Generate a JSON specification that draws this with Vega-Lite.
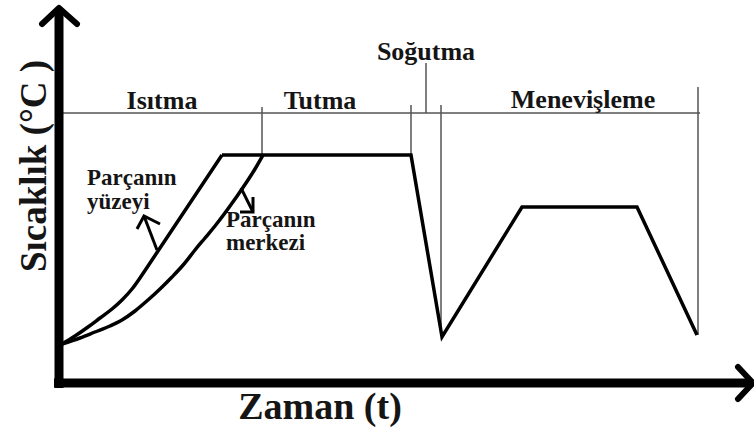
{
  "$schema": "https://vega.github.io/schema/vega-lite/v6.json",
  "width": 754,
  "height": 435,
  "padding": 0,
  "autosize": "none",
  "background": "white",
  "config": {"view": {"stroke": null}},
  "datasets": {
    "lines": [
      {"kind": "axis", "seg": "yaxis", "i": 0, "x": 59, "t": 47},
      {"kind": "axis", "seg": "yaxis", "i": 1, "x": 59, "t": 426},
      {"kind": "axis", "seg": "xaxis", "i": 0, "x": 54, "t": 52},
      {"kind": "axis", "seg": "xaxis", "i": 1, "x": 751, "t": 52},
      {"kind": "head", "seg": "yhead", "i": 0, "x": 42, "t": 411},
      {"kind": "head", "seg": "yhead", "i": 1, "x": 59, "t": 427},
      {"kind": "head", "seg": "yhead", "i": 2, "x": 77, "t": 411},
      {"kind": "head", "seg": "xhead", "i": 0, "x": 738, "t": 68},
      {"kind": "head", "seg": "xhead", "i": 1, "x": 753, "t": 52},
      {"kind": "head", "seg": "xhead", "i": 2, "x": 738, "t": 36},
      {"kind": "thin", "seg": "h", "i": 0, "x": 59, "t": 322},
      {"kind": "thin", "seg": "h", "i": 1, "x": 700, "t": 322},
      {"kind": "thin", "seg": "v1", "i": 0, "x": 262, "t": 328},
      {"kind": "thin", "seg": "v1", "i": 1, "x": 262, "t": 280},
      {"kind": "thin", "seg": "v2", "i": 0, "x": 411, "t": 330},
      {"kind": "thin", "seg": "v2", "i": 1, "x": 411, "t": 280},
      {"kind": "thin", "seg": "v3", "i": 0, "x": 426, "t": 372},
      {"kind": "thin", "seg": "v3", "i": 1, "x": 426, "t": 322},
      {"kind": "thin", "seg": "v4", "i": 0, "x": 441, "t": 330},
      {"kind": "thin", "seg": "v4", "i": 1, "x": 441, "t": 99},
      {"kind": "thin", "seg": "v5", "i": 0, "x": 698, "t": 348},
      {"kind": "thin", "seg": "v5", "i": 1, "x": 698, "t": 100},
      {"kind": "smooth", "seg": "surface", "i": 0, "x": 62, "t": 91},
      {"kind": "smooth", "seg": "surface", "i": 1, "x": 75, "t": 99},
      {"kind": "smooth", "seg": "surface", "i": 2, "x": 88, "t": 108},
      {"kind": "smooth", "seg": "surface", "i": 3, "x": 100, "t": 117},
      {"kind": "smooth", "seg": "surface", "i": 4, "x": 112, "t": 126},
      {"kind": "smooth", "seg": "surface", "i": 5, "x": 122, "t": 135},
      {"kind": "smooth", "seg": "surface", "i": 6, "x": 132, "t": 146},
      {"kind": "smooth", "seg": "surface", "i": 7, "x": 142, "t": 160},
      {"kind": "smooth", "seg": "surface", "i": 8, "x": 152, "t": 175},
      {"kind": "smooth", "seg": "surface", "i": 9, "x": 168, "t": 199},
      {"kind": "smooth", "seg": "surface", "i": 10, "x": 188, "t": 229},
      {"kind": "smooth", "seg": "surface", "i": 11, "x": 208, "t": 259},
      {"kind": "smooth", "seg": "surface", "i": 12, "x": 222, "t": 280},
      {"kind": "smooth", "seg": "center", "i": 0, "x": 62, "t": 91},
      {"kind": "smooth", "seg": "center", "i": 1, "x": 80, "t": 97},
      {"kind": "smooth", "seg": "center", "i": 2, "x": 95, "t": 103},
      {"kind": "smooth", "seg": "center", "i": 3, "x": 110, "t": 109},
      {"kind": "smooth", "seg": "center", "i": 4, "x": 122, "t": 115},
      {"kind": "smooth", "seg": "center", "i": 5, "x": 135, "t": 124},
      {"kind": "smooth", "seg": "center", "i": 6, "x": 148, "t": 135},
      {"kind": "smooth", "seg": "center", "i": 7, "x": 160, "t": 146},
      {"kind": "smooth", "seg": "center", "i": 8, "x": 172, "t": 158},
      {"kind": "smooth", "seg": "center", "i": 9, "x": 184, "t": 171},
      {"kind": "smooth", "seg": "center", "i": 10, "x": 195, "t": 185},
      {"kind": "smooth", "seg": "center", "i": 11, "x": 205, "t": 197},
      {"kind": "smooth", "seg": "center", "i": 12, "x": 215, "t": 209},
      {"kind": "smooth", "seg": "center", "i": 13, "x": 235, "t": 236},
      {"kind": "smooth", "seg": "center", "i": 14, "x": 255, "t": 266},
      {"kind": "smooth", "seg": "center", "i": 15, "x": 263, "t": 280},
      {"kind": "curve", "seg": "process", "i": 0, "x": 222, "t": 280},
      {"kind": "curve", "seg": "process", "i": 1, "x": 411, "t": 280},
      {"kind": "curve", "seg": "process", "i": 2, "x": 442, "t": 98},
      {"kind": "curve", "seg": "process", "i": 3, "x": 522, "t": 228},
      {"kind": "curve", "seg": "process", "i": 4, "x": 637, "t": 228},
      {"kind": "curve", "seg": "process", "i": 5, "x": 697, "t": 100},
      {"kind": "pointer", "seg": "s_shaft", "i": 0, "x": 157, "t": 185},
      {"kind": "pointer", "seg": "s_shaft", "i": 1, "x": 144, "t": 219},
      {"kind": "pointer", "seg": "s_head", "i": 0, "x": 137, "t": 206},
      {"kind": "pointer", "seg": "s_head", "i": 1, "x": 144, "t": 219},
      {"kind": "pointer", "seg": "s_head", "i": 2, "x": 160, "t": 211},
      {"kind": "pointer", "seg": "c_shaft", "i": 0, "x": 241, "t": 247},
      {"kind": "pointer", "seg": "c_shaft", "i": 1, "x": 253, "t": 223},
      {"kind": "pointer", "seg": "c_head", "i": 0, "x": 253, "t": 238},
      {"kind": "pointer", "seg": "c_head", "i": 1, "x": 253, "t": 223},
      {"kind": "pointer", "seg": "c_head", "i": 2, "x": 240, "t": 223}
    ],
    "phases": [
      {"label": "Isıtma", "x": 162, "t": 334},
      {"label": "Tutma", "x": 320, "t": 334},
      {"label": "Soğutma", "x": 426, "t": 383},
      {"label": "Menevişleme", "x": 583, "t": 335}
    ],
    "notes": [
      {"label": "Parçanın", "x": 87, "t": 257},
      {"label": "yüzeyi", "x": 87, "t": 233},
      {"label": "Parçanın", "x": 226, "t": 215},
      {"label": "merkezi", "x": 226, "t": 192}
    ],
    "ytitle": [{"label": "Sıcaklık (°C )", "x": 35, "t": 269}],
    "xtitle": [{"label": "Zaman (t)", "x": 320, "t": 27}]
  },
  "layer": [
    {
      "data": {"name": "lines"},
      "transform": [{"filter": "datum.kind === 'thin'"}],
      "mark": {"type": "line", "stroke": "#555555", "strokeWidth": 1.5},
      "encoding": {
        "x": {"field": "x", "type": "quantitative", "scale": {"domain": [0, 754], "nice": false, "zero": false}, "axis": null},
        "y": {"field": "t", "type": "quantitative", "scale": {"domain": [0, 435], "nice": false, "zero": false}, "axis": null},
        "detail": {"field": "seg"},
        "order": {"field": "i"}
      }
    },
    {
      "data": {"name": "lines"},
      "transform": [{"filter": "datum.kind === 'smooth'"}],
      "mark": {"type": "line", "stroke": "black", "strokeWidth": 3.5, "interpolate": "monotone"},
      "encoding": {
        "x": {"field": "x", "type": "quantitative"},
        "y": {"field": "t", "type": "quantitative"},
        "detail": {"field": "seg"},
        "order": {"field": "i"}
      }
    },
    {
      "data": {"name": "lines"},
      "transform": [{"filter": "datum.kind === 'curve'"}],
      "mark": {"type": "line", "stroke": "black", "strokeWidth": 3.5, "strokeJoin": "miter"},
      "encoding": {
        "x": {"field": "x", "type": "quantitative"},
        "y": {"field": "t", "type": "quantitative"},
        "detail": {"field": "seg"},
        "order": {"field": "i"}
      }
    },
    {
      "data": {"name": "lines"},
      "transform": [{"filter": "datum.kind === 'pointer'"}],
      "mark": {"type": "line", "stroke": "black", "strokeWidth": 3, "strokeJoin": "miter"},
      "encoding": {
        "x": {"field": "x", "type": "quantitative"},
        "y": {"field": "t", "type": "quantitative"},
        "detail": {"field": "seg"},
        "order": {"field": "i"}
      }
    },
    {
      "data": {"name": "lines"},
      "transform": [{"filter": "datum.kind === 'axis'"}],
      "mark": {"type": "line", "stroke": "black", "strokeWidth": 9, "strokeCap": "butt"},
      "encoding": {
        "x": {"field": "x", "type": "quantitative"},
        "y": {"field": "t", "type": "quantitative"},
        "detail": {"field": "seg"},
        "order": {"field": "i"}
      }
    },
    {
      "data": {"name": "lines"},
      "transform": [{"filter": "datum.kind === 'head'"}],
      "mark": {"type": "line", "stroke": "black", "strokeWidth": 6, "strokeCap": "round", "strokeJoin": "round"},
      "encoding": {
        "x": {"field": "x", "type": "quantitative"},
        "y": {"field": "t", "type": "quantitative"},
        "detail": {"field": "seg"},
        "order": {"field": "i"}
      }
    },
    {
      "data": {"name": "phases"},
      "mark": {"type": "text", "font": "Liberation Serif", "fontWeight": "bold", "fontSize": 26, "align": "center", "baseline": "middle", "color": "#151515"},
      "encoding": {
        "x": {"field": "x", "type": "quantitative"},
        "y": {"field": "t", "type": "quantitative"},
        "text": {"field": "label"}
      }
    },
    {
      "data": {"name": "notes"},
      "mark": {"type": "text", "font": "Liberation Serif", "fontWeight": "bold", "fontSize": 23, "align": "left", "baseline": "middle", "color": "#151515"},
      "encoding": {
        "x": {"field": "x", "type": "quantitative"},
        "y": {"field": "t", "type": "quantitative"},
        "text": {"field": "label"}
      }
    },
    {
      "data": {"name": "ytitle"},
      "mark": {"type": "text", "font": "Liberation Serif", "fontWeight": "bold", "fontSize": 37, "align": "center", "baseline": "middle", "angle": 270, "color": "#151515"},
      "encoding": {
        "x": {"field": "x", "type": "quantitative"},
        "y": {"field": "t", "type": "quantitative"},
        "text": {"field": "label"}
      }
    },
    {
      "data": {"name": "xtitle"},
      "mark": {"type": "text", "font": "Liberation Serif", "fontWeight": "bold", "fontSize": 38, "align": "center", "baseline": "middle", "color": "#151515"},
      "encoding": {
        "x": {"field": "x", "type": "quantitative"},
        "y": {"field": "t", "type": "quantitative"},
        "text": {"field": "label"}
      }
    }
  ]
}
